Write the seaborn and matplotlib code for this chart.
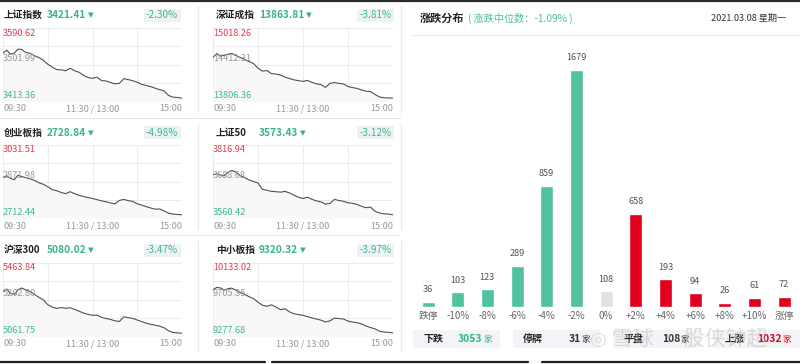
import numpy as np
import pandas as pd
import matplotlib
matplotlib.use("Agg")
import matplotlib.pyplot as plt
from matplotlib.patches import Rectangle
from matplotlib.lines import Line2D
import seaborn as sns

sns.set_theme(style="white")
plt.rcParams['font.family'] = ['Noto Sans CJK SC', 'DejaVu Sans']
plt.rcParams['axes.unicode_minus'] = False

# ---------------- data ----------------
MINUTES = [0, 5, 10, 15, 20, 25, 30, 36, 42, 48, 54, 60, 66, 72, 78, 84, 90, 96, 102, 108,
           114, 120, 126, 132, 138, 144, 150, 156, 162, 168, 174, 180, 186, 192, 198, 204,
           210, 216, 222, 228, 234, 240]

SH_COMP = [3529.9, 3537.2, 3527.5, 3529.9, 3539.6, 3538.9, 3532.3, 3529.9, 3523.8, 3519.5,
           3512.9, 3503.2, 3496.4, 3490.3, 3489.8, 3487.4, 3493.5, 3487.4, 3483.8, 3476.5,
           3471.2, 3469.2, 3472.1, 3463.9, 3462.9, 3459.5, 3455.9, 3457.1, 3468.5, 3466.1,
           3463.6, 3459.5, 3454.6, 3452.2, 3449.3, 3445.4, 3442.0, 3438.9, 3427.9, 3423.8,
           3423.1, 3421.4]
SZ_COMP = [14531.9, 14598.3, 14553.5, 14570.1, 14586.7, 14598.3, 14570.1, 14531.9, 14500.4, 14465.5,
           14432.3, 14354.3, 14307.8, 14316.1, 14266.3, 14258.0, 14243.1, 14208.2, 14185.0, 14163.4,
           14150.1, 14138.5, 14153.4, 14121.9, 14097.0, 14085.4, 14038.9, 14105.3, 14118.6, 14105.3,
           14095.3, 14052.2, 14035.6, 14022.3, 13997.4, 13975.8, 13969.2, 13922.7, 13881.2, 13867.9,
           13864.6, 13863.8]
CHINEXT = [2890.5, 2897.8, 2887.0, 2880.6, 2900.0, 2894.8, 2890.1, 2884.9, 2878.4, 2867.6,
           2861.2, 2850.4, 2837.5, 2833.1, 2825.4, 2820.2, 2828.8, 2820.2, 2812.9, 2808.1,
           2803.0, 2799.5, 2794.3, 2789.2, 2784.9, 2780.5, 2775.8, 2790.9, 2795.2, 2790.0,
           2786.6, 2776.2, 2770.6, 2764.2, 2758.1, 2752.9, 2753.8, 2745.2, 2735.7, 2731.4,
           2729.7, 2728.8]
SSE50 = [3712.9, 3717.1, 3711.9, 3709.5, 3721.9, 3727.8, 3723.7, 3710.8, 3703.2, 3694.9,
         3689.7, 3684.2, 3662.3, 3658.9, 3655.0, 3654.0, 3652.3, 3655.0, 3649.8, 3641.9,
         3634.6, 3630.1, 3634.6, 3627.3, 3621.8, 3618.6, 3610.7, 3613.1, 3627.0, 3623.2,
         3620.4, 3615.2, 3613.4, 3609.6, 3603.0, 3598.2, 3600.3, 3585.7, 3579.5, 3576.7,
         3576.0, 3573.4]
CSI300 = [5308.2, 5321.4, 5297.3, 5290.7, 5317.5, 5326.9, 5317.0, 5308.2, 5292.3, 5276.5,
          5262.8, 5235.4, 5222.8, 5215.6, 5220.0, 5216.2, 5218.9, 5210.2, 5200.3, 5189.9,
          5182.8, 5177.8, 5178.4, 5166.9, 5160.3, 5155.4, 5147.7, 5143.9, 5169.6, 5164.7,
          5160.9, 5151.6, 5143.3, 5134.6, 5128.5, 5123.6, 5118.7, 5109.4, 5092.9, 5084.2,
          5081.4, 5080.0]
SME = [9821.9, 9848.7, 9842.9, 9816.1, 9833.6, 9840.6, 9818.4, 9791.7, 9767.2, 9741.6,
       9718.3, 9676.3, 9641.4, 9629.7, 9646.0, 9620.4, 9590.1, 9600.6, 9564.5, 9542.3,
       9533.0, 9523.7, 9508.6, 9493.4, 9480.6, 9467.8, 9446.8, 9459.6, 9492.2, 9486.4,
       9480.6, 9457.3, 9446.8, 9438.7, 9423.5, 9400.2, 9381.6, 9367.6, 9338.5, 9329.1,
       9326.8, 9320.3]

INDEX_NAMES = ["上证指数", "深证成指", "创业板指", "上证50", "沪深300", "中小板指"]
INDEX_SERIES = [SH_COMP, SZ_COMP, CHINEXT, SSE50, CSI300, SME]
LAST_PRICE = [3421.41, 13863.81, 2728.84, 3573.43, 5080.02, 9320.32]
PCT_CHANGE = ["-2.30%", "-3.81%", "-4.98%", "-3.12%", "-3.47%", "-3.97%"]
AXIS_HIGH = [3590.62, 15018.26, 3031.51, 3816.94, 5463.84, 10133.02]
AXIS_LOW = [3413.36, 13806.36, 2712.44, 3560.42, 5061.75, 9277.68]
PREV_CLOSE = [3501.99, 14412.31, 2871.98, 3688.68, 5262.80, 9705.35]
TIME_LABELS = ["09:30", "11:30 / 13:00", "15:00"]

BUCKETS = ["跌停", "-10%", "-8%", "-6%", "-4%", "-2%", "0%",
           "+2%", "+4%", "+6%", "+8%", "+10%", "涨停"]
COUNTS = [36, 103, 123, 289, 859, 1679, 108, 658, 193, 94, 26, 61, 72]
MEDIAN_CHANGE = "-1.09%"
DATE_TEXT = "2021.03.08 星期一"
STAT_LABELS = ["下跌", "停牌", "平盘", "上涨"]
STAT_VALUES = [3053, 31, 108, 1032]
WATERMARK = "雪球 · 股侠钟超"

# ---------------- style ----------------
GREEN = "#36b487"
GREEN_BAR = "#50c2a0"
RED = "#e0001e"
RED_LABEL = "#e8394f"
GRAY_BAR = "#e2e2e2"
GRID = "#ebebeb"

W, H = 800, 364
fig = plt.figure(figsize=(W / 100, H / 100), dpi=100)
fig.patch.set_facecolor("white")
renderer = fig.canvas.get_renderer()


def add_ax(x0, y0, x1, y1):
    return fig.add_axes([x0 / W, 1 - y1 / H, (x1 - x0) / W, (y1 - y0) / H])


def ftext(x, y, s, **kw):
    kw.setdefault("va", "center")
    return fig.text(x / W, 1 - y / H, s, **kw)


def right_px(t):
    return t.get_window_extent(renderer=renderer).x1


def frect(x0, y0, x1, y1, color):
    fig.add_artist(Rectangle((x0 / W, 1 - y1 / H), (x1 - x0) / W, (y1 - y0) / H,
                             transform=fig.transFigure, facecolor=color, edgecolor="none", zorder=0))


def fline(x0, y0, x1, y1, color, lw):
    fig.add_artist(Line2D([x0 / W, x1 / W], [1 - y0 / H, 1 - y1 / H],
                          transform=fig.transFigure, color=color, lw=lw, zorder=5))


# ---------------- mini index charts ----------------
COLS = [(3, 182), (213, 393)]
ROWS = [(28, 101.5), (145, 218.5), (263, 336.5)]
TITLE_Y = [15, 132.5, 250]
XLAB_Y = [108.5, 226.5, 343.5]
TITLE_X = [4, 216]
VALUE_X = [47, 259]
BOX_X = [(143.5, 180.5), (357, 393.5)]

for i, name in enumerate(INDEX_NAMES):
    c, r = i % 2, i // 2
    x0, x1 = COLS[c]
    y0, y1 = ROWS[r]
    ax = add_ax(x0, y0, x1, y1)
    df = pd.DataFrame({"t": MINUTES, "v": INDEX_SERIES[i]})
    ax.fill_between(df["t"], df["v"], AXIS_LOW[i], color="#f8f8f8", zorder=1, lw=0)
    sns.lineplot(data=df, x="t", y="v", ax=ax, color="#505050", linewidth=0.8, zorder=3)
    ax.set_xlim(0, 240)
    ax.set_ylim(AXIS_LOW[i], AXIS_HIGH[i])
    ax.set_xticks([0, 60, 120, 180, 240])
    ax.set_yticks(np.linspace(AXIS_LOW[i], AXIS_HIGH[i], 5))
    ax.grid(True, color=GRID, lw=0.7)
    ax.tick_params(left=False, bottom=False, labelleft=False, labelbottom=False)
    ax.set_xlabel("")
    ax.set_ylabel("")
    for s in ax.spines.values():
        s.set_visible(False)
    ax.patch.set_alpha(0)

    # axis value labels
    ftext(x0, y0 + 5, f"{AXIS_HIGH[i]:.2f}", color=RED_LABEL, fontsize=6.6, ha="left")
    ftext(x0, (y0 + y1) / 2 - 6.5, f"{PREV_CLOSE[i]:.2f}", color="#9a9a9a", fontsize=6.6,
          ha="left", zorder=6)
    ftext(x0, y1 - 6, f"{AXIS_LOW[i]:.2f}", color="#3fb98e", fontsize=6.6, ha="left")

    # time labels
    ftext(x0, XLAB_Y[r], TIME_LABELS[0], color="#999999", fontsize=6.6, ha="left")
    ftext((x0 + x1) / 2, XLAB_Y[r], TIME_LABELS[1], color="#999999", fontsize=6.6, ha="center")
    ftext(x1, XLAB_Y[r], TIME_LABELS[2], color="#999999", fontsize=6.6, ha="right")

    # header
    ty = TITLE_Y[r]
    ftext(TITLE_X[c], ty, name, color="#222222", fontsize=7, fontweight="bold", ha="left")
    tv = ftext(VALUE_X[c], ty, f"{LAST_PRICE[i]:.2f}", color=GREEN, fontsize=7.3,
               fontweight="bold", ha="left")
    xr = right_px(tv)
    ftext(xr + 1.5, ty + 0.5, "▼", color=GREEN, fontsize=5.3, ha="left", family=["DejaVu Sans"])
    bx0, bx1 = BOX_X[c]
    frect(bx0, ty - 6.5, bx1, ty + 6.5, "#eef1f5")
    ftext((bx0 + bx1) / 2, ty, PCT_CHANGE[i], color="#3fb98e", fontsize=7.2, ha="center")

# separators of the left panel
for (ya, yb) in [(6, 112), (124, 229), (241, 352)]:
    fline(197.5, ya, 197.5, yb, "#e8e8e8", 0.8)
    fline(401, ya, 401, yb, "#e8e8e8", 0.8)
fline(0, 117.5, 400, 117.5, "#e6e6e6", 0.8)
fline(0, 234.5, 400, 234.5, "#e6e6e6", 0.8)

# ---------------- distribution bar chart ----------------
ftext(420, 18, "涨跌分布", color="#222222", fontsize=8, fontweight="bold", ha="left")
ftext(468, 18, f"( 涨跌中位数：{MEDIAN_CHANGE} )", color="#4cbf98", fontsize=7.3, ha="left")
ftext(786, 18, DATE_TEXT, color="#333333", fontsize=6.6, ha="right")
fline(412, 35, 800, 35, "#e8e8e8", 0.8)

bar_colors = [GREEN_BAR if b.startswith("-") or b == "跌停" else
              (GRAY_BAR if b == "0%" else RED) for b in BUCKETS]
axb = add_ax(413.2, 40, 798.9, 306.7)
bdf = pd.DataFrame({"bucket": BUCKETS, "count": COUNTS})
sns.barplot(data=bdf, x="bucket", y="count", hue="bucket", order=BUCKETS,
            palette=dict(zip(BUCKETS, bar_colors)), legend=False, width=0.44,
            saturation=1, ax=axb)
axb.set_ylim(0, 1892)
axb.set_xlim(-0.5, len(BUCKETS) - 0.5)
for s in axb.spines.values():
    s.set_visible(False)
axb.set_yticks([])
axb.set_xlabel("")
axb.set_ylabel("")
axb.tick_params(axis="x", length=0, pad=3.2, labelsize=7, labelcolor="#666666")
axb.patch.set_alpha(0)
for xi, v in enumerate(COUNTS):
    axb.annotate(str(v), (xi, v), xytext=(0, 5.5), textcoords="offset points",
                 ha="center", va="bottom", fontsize=6.6, color="#555555")

# ---------------- stats row ----------------
BOXES = [(413, 500), (513, 600), (613, 700), (713, 800)]
LAB_X = [423, 523, 623, 725]
VAL_X = [458, 569, 662, 757]
VAL_COL = [GREEN, "#333333", "#333333", RED]
for k in range(4):
    frect(BOXES[k][0], 330, BOXES[k][1], 347.5, "#f2f4f7")
    ftext(LAB_X[k], 339, STAT_LABELS[k], color="#222222", fontsize=7.2, fontweight="bold", ha="left")
    t = ftext(VAL_X[k], 339, f"{STAT_VALUES[k]}", color=VAL_COL[k], fontsize=7.4,
              fontweight="bold", ha="left")
    ftext(right_px(t) + 0.5, 339.5, "家", color=VAL_COL[k], fontsize=6.0, ha="left")

# watermark (semi-transparent, drawn over the stats row as in the screenshot)
ftext(598, 339, "◎", color="#c4c4c4", fontsize=14, ha="center", alpha=0.5,
      family=["DejaVu Sans"], zorder=10)
ftext(612, 339, WATERMARK, color="#bcbcbc", fontsize=15, ha="left", alpha=0.5, zorder=10)

# frame lines
fline(0, 0.8, 800, 0.8, "#2a2a2a", 1.6)
for (xa, xb) in [(0, 265), (272, 528), (542, 800)]:
    fline(xa, 361.5, xb, 361.5, "#222222", 1.6)

fig.savefig("out.png", dpi=100, facecolor="white")
